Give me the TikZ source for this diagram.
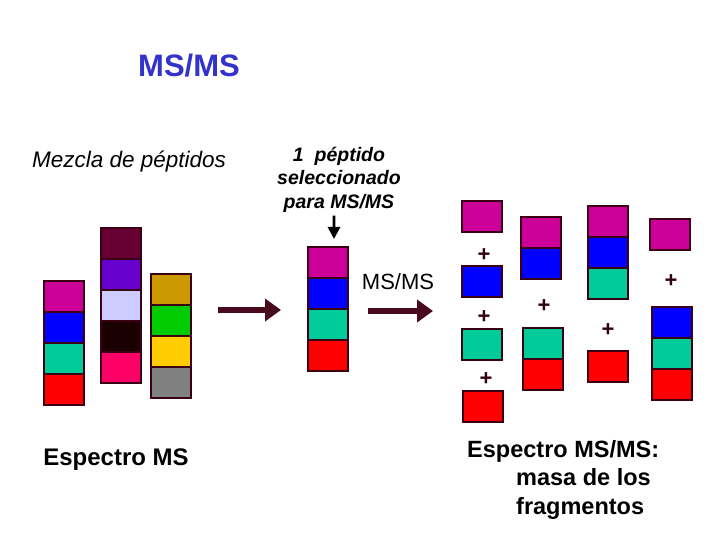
\documentclass[tikz,border=0pt]{standalone}
\usepackage{fontspec}
\setmainfont{Liberation Sans}
\usetikzlibrary{arrows.meta,positioning}

\definecolor{blkedge}{HTML}{3A0014}
\definecolor{arrowdark}{HTML}{4A0A1E}
\definecolor{plusdark}{HTML}{33000F}
\definecolor{titleblue}{HTML}{3333CC}
\definecolor{magentablk}{HTML}{CC0099}
\definecolor{blueblk}{HTML}{0000FF}
\definecolor{tealblk}{HTML}{00CC99}
\definecolor{redblk}{HTML}{FF0000}
\definecolor{maroonblk}{HTML}{660033}
\definecolor{violetblk}{HTML}{6600CC}
\definecolor{lavblk}{HTML}{CCCCFF}
\definecolor{darkblk}{HTML}{1A0000}
\definecolor{pinkblk}{HTML}{FF0066}
\definecolor{goldblk}{HTML}{CC9900}
\definecolor{greenblk}{HTML}{00CC00}
\definecolor{yellowblk}{HTML}{FFCC00}
\definecolor{grayblk}{HTML}{808080}

\newcommand\pxfont[2]{\fontsize{#1bp}{#2bp}\selectfont}

\begin{document}
\begin{tikzpicture}[
  x=1bp, y=-1bp,
  node distance=0pt,
  blk/.style={draw=blkedge, line width=2bp, outer sep=0pt, inner sep=0pt,
    minimum width=40bp, minimum height=31bp},
  plus/.style={text=plusdark, font=\pxfont{22}{26}\bfseries, inner sep=0pt},
  bigarrow/.style={draw=arrowdark, line width=6bp,
    -{Triangle[length=16bp,width=22bp]}},
  selarrow/.style={draw=black, line width=2.8bp,
    -{Triangle[length=12bp,width=12bp]}}
]
\useasboundingbox (0,0) rectangle (720,540);
\fill[white] (0,0) rectangle (720,540);

% titles and labels
\node[anchor=base, text=titleblue, font=\pxfont{31}{36}\bfseries] (title) at (189,77) {MS/MS};
\node[anchor=base, font=\pxfont{22.5}{27}\itshape] (mezcla) at (129,168) {Mezcla de péptidos};
\node[anchor=north, inner sep=0pt, align=center, font=\pxfont{19.5}{23.5}\bfseries\itshape]
  (sel) at (339,147) {1\ \ péptido\\seleccionado\\para MS/MS};
\node[anchor=base, font=\pxfont{22}{26}] (msms) at (398,289) {MS/MS};
\node[anchor=base, font=\pxfont{24}{28}\bfseries] (espms) at (116,465) {Espectro MS};
\node[anchor=north west, inner sep=0pt, align=left, font=\pxfont{23.5}{28.5}\bfseries]
  (espmsms) at (467,440) {Espectro MS/MS:\\\hspace*{49bp}masa de los\\\hspace*{49bp}fragmentos};

% mezcla de peptidos
\node[blk, fill=magentablk, anchor=north] (a1) at (64,281) {};
\node[blk, fill=blueblk, below=of a1] (a2) {};
\node[blk, fill=tealblk, below=of a2] (a3) {};
\node[blk, fill=redblk, below=of a3] (a4) {};

\node[blk, fill=maroonblk, anchor=north] (b1) at (120.5,228) {};
\node[blk, fill=violetblk, below=of b1] (b2) {};
\node[blk, fill=lavblk, below=of b2] (b3) {};
\node[blk, fill=darkblk, below=of b3] (b4) {};
\node[blk, fill=pinkblk, below=of b4] (b5) {};

\node[blk, fill=goldblk, anchor=north] (c1) at (170.5,274) {};
\node[blk, fill=greenblk, below=of c1] (c2) {};
\node[blk, fill=yellowblk, below=of c2] (c3) {};
\node[blk, fill=grayblk, below=of c3] (c4) {};

% peptido seleccionado
\node[blk, fill=magentablk, anchor=north] (m1) at (328,247) {};
\node[blk, fill=blueblk, below=of m1] (m2) {};
\node[blk, fill=tealblk, below=of m2] (m3) {};
\node[blk, fill=redblk, below=of m3] (m4) {};

% fragmentos
\node[blk, fill=magentablk, anchor=north] (fa1) at (482,201) {};
\node[blk, fill=blueblk, anchor=north] (fa2) at (482,266) {};
\node[blk, fill=tealblk, anchor=north] (fa3) at (482,329) {};
\node[blk, fill=redblk, anchor=north] (fa4) at (483,391) {};
\node[plus] (pa1) at (484,255) {+};
\node[plus] (pa2) at (484,317) {+};
\node[plus] (pa3) at (486,379) {+};

\node[blk, fill=magentablk, anchor=north] (fb1) at (541,217) {};
\node[blk, fill=blueblk, below=of fb1] (fb2) {};
\node[blk, fill=tealblk, anchor=north] (fb3) at (543,328) {};
\node[blk, fill=redblk, below=of fb3] (fb4) {};
\node[plus] (pb1) at (544,306) {+};

\node[blk, fill=magentablk, anchor=north] (fc1) at (608,206) {};
\node[blk, fill=blueblk, below=of fc1] (fc2) {};
\node[blk, fill=tealblk, below=of fc2] (fc3) {};
\node[blk, fill=redblk, anchor=north] (fc4) at (608,351) {};
\node[plus] (pc1) at (608,330) {+};

\node[blk, fill=magentablk, anchor=north] (fd1) at (670,219) {};
\node[blk, fill=blueblk, anchor=north] (fd2) at (672,307) {};
\node[blk, fill=tealblk, below=of fd2] (fd3) {};
\node[blk, fill=redblk, below=of fd3] (fd4) {};
\node[plus] (pd1) at (671,281) {+};

% flechas
\coordinate (ar1s) at (218,310);
\coordinate (ar1e) at (281,310);
\coordinate (ar2s) at (368,311);
\coordinate (ar2e) at (433,311);
\draw[bigarrow] (ar1s) -- (ar1e);
\draw[bigarrow] (ar2s) -- (ar2e);
\draw[selarrow] ([xshift=-5bp,yshift=-3bp]sel.south) -- ([xshift=6bp,yshift=8bp]m1.north);
\end{tikzpicture}
\end{document}
